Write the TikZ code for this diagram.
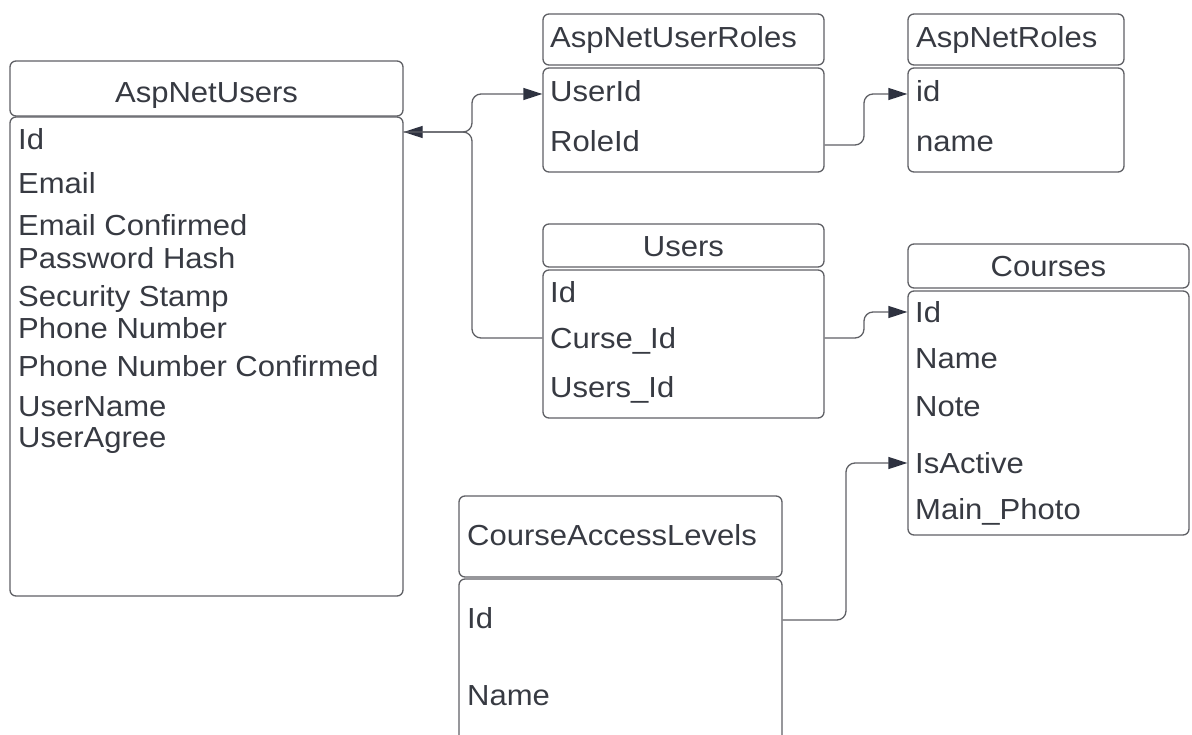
\documentclass[tikz,border=0pt]{standalone}
\usepackage{fontspec}
\setmainfont[FakeStretch=1.07]{Liberation Sans}
\usetikzlibrary{arrows.meta}
\definecolor{txt}{HTML}{373A42}
\definecolor{lin}{HTML}{5F6065}
\definecolor{arr}{HTML}{2E3240}
\tikzset{
  box/.style={draw=lin, line width=1.3pt, rounded corners=6pt, inner sep=0pt},
  lbl/.style={text=txt, inner sep=0pt, font=\fontsize{29}{34}\selectfont},
  fld/.style={lbl, anchor=base west},
  ttl/.style={lbl, anchor=base},
  conn/.style={draw=lin, line width=1.3pt, rounded corners=9pt,
    -{Triangle[length=19pt,width=12pt,color=arr]}}
}
\begin{document}
\begin{tikzpicture}[x=1pt,y=1pt]
\useasboundingbox (0,0) rectangle (1192,-735);
\clip (0,0) rectangle (1192,-735);
% helper levels
\coordinate (y95) at (0,-94);
\coordinate (y132) at (0,-132);
\coordinate (y145) at (0,-145);
\coordinate (y311) at (0,-312);
\coordinate (y337) at (0,-338);
\coordinate (y462) at (0,-463);
\coordinate (y620) at (0,-620);
% AspNetUsers
\node[box, minimum width=393pt, minimum height=55pt] (aspH) at (206.5,-88.5) {};
\node[box, minimum width=393pt, minimum height=479pt] (aspB) at (206.5,-356.5) {};
\node[ttl] (aspT) at (206.5,-103) {AspNetUsers};
\node[fld] (a1) at (18,-150) {Id};
\node[fld] (a2) at (18,-194) {Email};
\node[fld] (a3) at (18,-236) {Email Confirmed};
\node[fld] (a4) at (18,-269) {Password Hash};
\node[fld] (a5) at (18,-307) {Security Stamp};
\node[fld] (a6) at (18,-339) {Phone Number};
\node[fld] (a7) at (18,-377) {Phone Number Confirmed};
\node[fld] (a8) at (18,-416) {UserName};
\node[fld] (a9) at (18,-447) {UserAgree};
% AspNetUserRoles
\node[box, minimum width=281pt, minimum height=51pt] (urH) at (683.5,-39.5) {};
\node[box, minimum width=281pt, minimum height=104pt] (urB) at (683.5,-120) {};
\node[fld] (urT) at (550,-48) {AspNetUserRoles};
\node[fld] (ur1) at (550,-102) {UserId};
\node[fld] (ur2) at (550,-152) {RoleId};
% AspNetRoles
\node[box, minimum width=216pt, minimum height=51pt] (rH) at (1016,-39.5) {};
\node[box, minimum width=216pt, minimum height=104pt] (rB) at (1016,-120) {};
\node[fld] (rT) at (916,-48) {AspNetRoles};
\node[fld] (r1) at (916,-102) {id};
\node[fld] (r2) at (916,-152) {name};
% Users
\node[box, minimum width=281pt, minimum height=43pt] (uH) at (683.5,-245.5) {};
\node[box, minimum width=281pt, minimum height=148pt] (uB) at (683.5,-344) {};
\node[ttl] (uT) at (683.5,-257) {Users};
\node[fld] (u1) at (550,-303) {Id};
\node[fld] (u2) at (550,-349) {Curse\_Id};
\node[fld] (u3) at (550,-397) {Users\_Id};
% Courses
\node[box, minimum width=281pt, minimum height=44pt] (cH) at (1048.5,-266) {};
\node[box, minimum width=281pt, minimum height=244pt] (cB) at (1048.5,-413) {};
\node[ttl] (cT) at (1048.5,-277) {Courses};
\node[fld] (c1) at (915,-323) {Id};
\node[fld] (c2) at (915,-369) {Name};
\node[fld] (c3) at (915,-416) {Note};
\node[fld] (c4) at (915,-473) {IsActive};
\node[fld] (c5) at (915,-519) {Main\_Photo};
% CourseAccessLevels
\node[box, minimum width=323pt, minimum height=81pt] (lH) at (620.5,-536.5) {};
\node[box, minimum width=323pt, minimum height=181pt] (lB) at (620.5,-669.5) {};
\node[fld] (lT) at (467,-545) {CourseAccessLevels};
\node[fld] (l1) at (467,-628) {Id};
\node[fld] (l2) at (467,-705) {Name};
% connectors
\draw[conn] (uB.west |- y337) -- (472,-338) -- (472,-132) -- (aspB.east |- y132);
\draw[conn] (aspB.east |- y132) -- (472,-132) -- (472,-94) -- (urB.west |- y95);
\draw[conn] (urB.east |- y145) -- (864,-145) -- (864,-94) -- (rB.west |- y95);
\draw[conn] (uB.east |- y337) -- (864,-338) -- (864,-312) -- (cB.west |- y311);
\draw[conn] (lB.east |- y620) -- (846,-620) -- (846,-463) -- (cB.west |- y462);
\end{tikzpicture}
\end{document}
